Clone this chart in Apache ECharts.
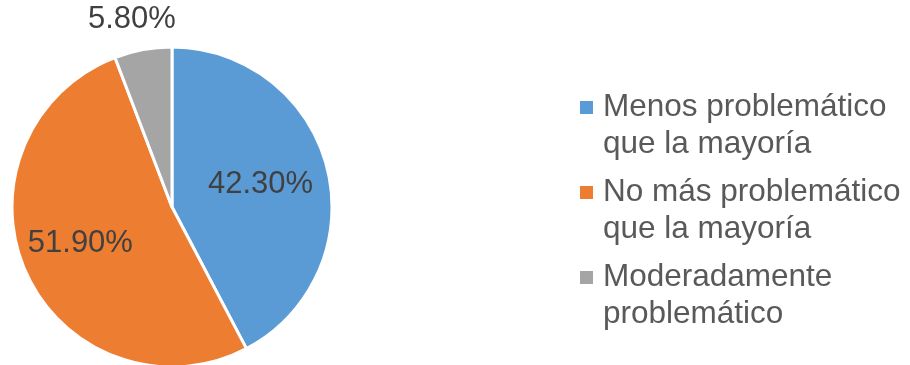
<!DOCTYPE html>
<html>
<head>
<meta charset="utf-8">
<script src="https://cdn.jsdelivr.net/npm/echarts@6/dist/echarts.min.js"></script>
<style>
  html, body { margin: 0; padding: 0; background: #fff; }
  #chart { width: 910px; height: 365px; }
</style>
</head>
<body>
<div id="chart"></div>
<script>
// Categories (legend text, two lines each) and their shares in percent
const categories = [
  'Menos problemático\nque la mayoría',
  'No más problemático\nque la mayoría',
  'Moderadamente\nproblemático'
];
const shares = [42.3, 51.9, 5.8];
const colors = ['#5B9BD5', '#ED7D31', '#A5A5A5'];

// Nudges for the value labels relative to the default inside position
const labelOffsets = [[8, -3], [-16, 2], [-25, -106]];

const FONT = '"Liberation Sans", Arial, Helvetica, sans-serif';

const rich = {
  t: { fontFamily: FONT, fontSize: 31.5, lineHeight: 37, color: '#595959', padding: [0, 0, 0, 10] },
  s: { width: 13, height: 13 }
};
colors.forEach((c, i) => {
  rich['m' + i] = { width: 13, height: 13, backgroundColor: c };
});

const chart = echarts.init(document.getElementById('chart'), null, { renderer: 'canvas' });

chart.setOption({
  animation: false,
  backgroundColor: '#ffffff',
  color: colors,
  textStyle: { fontFamily: FONT },
  legend: {
    orient: 'vertical',
    left: 575,
    top: 89,
    padding: 0,
    itemGap: 11,
    icon: 'none',
    itemWidth: 0,
    itemHeight: 13,
    selectedMode: false,
    textStyle: { fontFamily: FONT, fontSize: 31.5, lineHeight: 37, color: '#595959', rich: rich },
    formatter: function (name) {
      const i = categories.indexOf(name);
      const lines = name.split('\n');
      return '{m' + i + '|}{t|' + lines[0] + '}\n{s|}{t|' + lines[1] + '}';
    },
    data: categories
  },
  series: [{
    type: 'pie',
    center: [172, 207],
    radius: 160,
    startAngle: 90,
    clockwise: true,
    avoidLabelOverlap: false,
    itemStyle: { borderColor: '#ffffff', borderWidth: 3 },
    label: {
      show: true,
      position: 'inside',
      fontFamily: FONT,
      fontSize: 31,
      color: '#404040',
      formatter: p => p.value.toFixed(2) + '%'
    },
    labelLine: { show: false },
    emphasis: { disabled: true },
    data: categories.map((name, i) => ({
      name: name,
      value: shares[i],
      label: { offset: labelOffsets[i] }
    }))
  }]
});
</script>
</body>
</html>
